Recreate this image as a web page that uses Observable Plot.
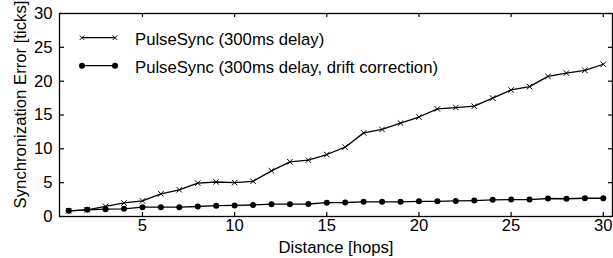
<!DOCTYPE html>
<html><head><meta charset="utf-8">
<script src="https://cdn.jsdelivr.net/npm/d3@7"></script>
<script src="https://cdn.jsdelivr.net/npm/@observablehq/plot@0.6"></script>
<style>
body{margin:0;background:#fff;}
#wrap{width:613px;height:258px;}
</style></head><body><div id="wrap"></div>
<script>
const hops = [1,2,3,4,5,6,7,8,9,10,11,12,13,14,15,16,17,18,19,20,21,22,23,24,25,26,27,28,29,30];
const noCorrection = [0.84,0.99,1.5,2.0,2.3,3.35,3.94,4.93,5.1,5.0,5.2,6.75,8.08,8.33,9.16,10.25,12.36,12.86,13.8,14.7,15.9,16.1,16.3,17.5,18.7,19.2,20.7,21.2,21.6,22.5];
const driftCorrection = [0.84,0.99,1.08,1.13,1.38,1.38,1.38,1.48,1.6,1.63,1.7,1.82,1.82,1.85,2.05,2.07,2.17,2.17,2.17,2.25,2.25,2.3,2.36,2.46,2.5,2.5,2.66,2.62,2.7,2.7];
const seriesNames = ["PulseSync (300ms delay)", "PulseSync (300ms delay, drift correction)"];
const xTicks = [5,10,15,20,25,30];
const yTicks = [0,5,10,15,20,25,30];
const xLabel = "Distance [hops]";
const yLabel = "Synchronization Error [ticks]";

const d0 = hops.map((h,i)=>({hops:h, err:noCorrection[i]}));
const d1 = hops.map((h,i)=>({hops:h, err:driftCorrection[i]}));
const FONT = '"Liberation Sans", Arial, Helvetica, sans-serif';
const FS = 16.7;

const chart = Plot.plot({
  width:613, height:258, marginLeft:59, marginRight:1, marginTop:13, marginBottom:42,
  style:{fontFamily:FONT, fontSize:FS+"px", color:"black", background:"white", overflow:"visible"},
  x:{domain:[0.5,30.5]},
  y:{domain:[0,30]},
  marks:[
    Plot.axisX(xTicks, {tickSize:0, tickPadding:3, label:null, fontSize:FS}),
    Plot.axisY(yTicks, {tickSize:0, tickPadding:7, label:null, fontSize:FS}),
    Plot.tickX(xTicks, {x:d=>d, insetTop:199, stroke:"black", strokeWidth:1.2}),
    Plot.tickX(xTicks, {x:d=>d, insetBottom:199, stroke:"black", strokeWidth:1.2}),
    Plot.tickY(yTicks, {y:d=>d, insetRight:548, stroke:"black", strokeWidth:1.2}),
    Plot.tickY(yTicks, {y:d=>d, insetLeft:549, stroke:"black", strokeWidth:1.2}),
    Plot.line(d0, {x:"hops", y:"err", stroke:"black", strokeWidth:1.3}),
    Plot.dot(d0, {x:"hops", y:"err", symbol:"times", r:2.6, stroke:"black", strokeWidth:1}),
    Plot.line(d1, {x:"hops", y:"err", stroke:"black", strokeWidth:1.3}),
    Plot.dot(d1, {x:"hops", y:"err", r:3, fill:"black", stroke:"none"}),
    Plot.frame({stroke:"black", strokeWidth:1.3}),
    Plot.text([xLabel], {text:d=>d, frameAnchor:"bottom", dy:31, lineAnchor:"middle", fontSize:FS})
  ]
});
document.getElementById("wrap").append(chart);

const svg = d3.select(chart);
// y-axis title
svg.append("text")
  .attr("transform", "translate(20,104.5) rotate(-90)")
  .attr("text-anchor", "middle").attr("dy", "0.35em")
  .attr("font-family", FONT).attr("font-size", FS).attr("fill", "black")
  .text(yLabel);

// legend (inside plot, top-left)
const lg = svg.append("g").attr("font-family", FONT).attr("font-size", FS).attr("text-anchor", "start");
const rows = [{y:37.7, ty:39, sym:"x"},{y:65.7, ty:67.5, sym:"o"}];
rows.forEach((r,i)=>{
  lg.append("line").attr("x1",82).attr("x2",115).attr("y1",r.y).attr("y2",r.y).attr("stroke","black").attr("stroke-width",1.3);
  [82,115].forEach(cx=>{
    if (r.sym==="x") {
      lg.append("path").attr("d",`M${cx-2.2},${r.y-2.2}L${cx+2.2},${r.y+2.2}M${cx-2.2},${r.y+2.2}L${cx+2.2},${r.y-2.2}`).attr("stroke","black").attr("stroke-width",1);
    } else {
      lg.append("circle").attr("cx",cx).attr("cy",r.y).attr("r",3).attr("fill","black");
    }
  });
  lg.append("text").attr("x",135).attr("y",r.ty).attr("dy","0.35em").attr("text-anchor","start").attr("fill","black").text(seriesNames[i]);
});
</script>
</body></html>
